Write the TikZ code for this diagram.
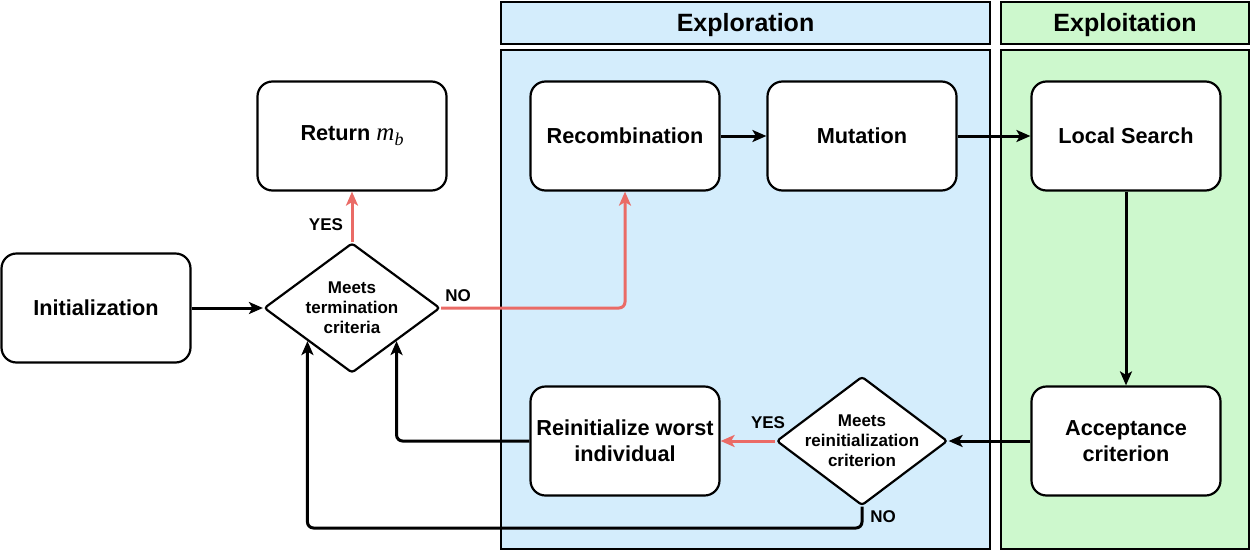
\RequirePackage{fix-cm}
\documentclass[tikz,border=0pt]{standalone}
\usepackage{fontspec}
\setmainfont{Liberation Sans}
\newfontfamily\serifit{Liberation Serif}
\usepackage{tikz}
\usetikzlibrary{shapes.geometric,arrows.meta}
\definecolor{explore}{HTML}{D4EDFC}
\definecolor{exploit}{HTML}{CDF8CD}
\definecolor{edgered}{HTML}{EA6B66}
\tikzstyle{arrow} = [line width=3pt,-{Stealth[length=14pt,width=12pt,inset=3.5pt]}]
\tikzstyle{redarrow} = [arrow,color=edgered]
\tikzstyle{box} = [draw,fill=white,rounded corners=15pt,line width=2.2pt,minimum width=189pt,minimum height=109pt,align=center,font=\fontsize{21.7}{26}\selectfont\bfseries]
\tikzstyle{decision} = [draw,fill=white,diamond,line width=2.2pt,inner sep=0pt,aspect=1.35,minimum width=176pt,minimum height=130pt,rounded corners=3pt]
\tikzstyle{small} = [font=\fontsize{17}{20}\selectfont\bfseries,align=center]
\tikzstyle{head} = [font=\fontsize{25}{30}\selectfont\bfseries]

\begin{document}
\begin{tikzpicture}[x=1pt,y=-1pt]
	\useasboundingbox (0,0) rectangle (1253,552);
	% regions
	\filldraw[fill=explore,line width=2.4pt] (501,2) rectangle (990,44) node[pos=.5,head,yshift=-2pt] (explorehead) {Exploration};
	\filldraw[fill=exploit,line width=2.4pt] (1001,2) rectangle (1249,44) node[pos=.5,head,yshift=-2pt] (exploithead) {Exploitation};
	\filldraw[fill=explore,line width=2.4pt] (501,50) rectangle (990,549);
	\filldraw[fill=exploit,line width=2.4pt] (1001,50) rectangle (1249,549);
	% boxes
	\node[box] (init) at (96,308) {Initialization};
	\node[box] (ret) at (352,136) {Return {\serifit\mdseries\itshape\fontsize{25}{26}\selectfont m\raisebox{-5pt}{\fontsize{18}{18}\selectfont b}}};
	\node[box] (recomb) at (625,136) {Recombination};
	\node[box] (mut) at (862,136) {Mutation};
	\node[box] (local) at (1126,136) {Local Search};
	\node[box] (accept) at (1126,441) {Acceptance\\criterion};
	\node[box] (reinit) at (625,441) {Reinitialize worst\\individual};
	% decisions
	\node[decision,label={[small]center:{Meets\\termination\\criteria}}] (term) at (352,308) {};
	\node[decision,minimum width=171pt,minimum height=129pt,aspect=1.33,label={[small]center:{Meets\\reinitialization\\criterion}}] (reinitq) at (862,441) {};
	\coordinate (nobend) at (862,528);
	% edges
	\draw[arrow] (init.east) -- (term.west);
	\draw[redarrow] (term.north) -- (ret.south);
	\draw[redarrow,rounded corners=6pt] (term.east) -| (recomb.south);
	\draw[arrow] (recomb.east) -- (mut.west);
	\draw[arrow] (mut.east) -- (local.west);
	\draw[arrow] (local.south) -- (accept.north);
	\draw[arrow] (accept.west) -- (reinitq.east);
	\draw[redarrow] (reinitq.west) -- (reinit.east);
	\draw[arrow,rounded corners=6pt] (reinit.west) -| (term.south east);
	\draw[arrow,rounded corners=6pt] (reinitq.south) -- (nobend) -| (term.south west);
	% labels
	\node[small] (yesret) at (326,225) {YES};
	\node[small] (noterm) at (458,296) {NO};
	\node[small] (yesreinit) at (768,423) {YES};
	\node[small] (noreinit) at (883,517) {NO};
\end{tikzpicture}
\end{document}
